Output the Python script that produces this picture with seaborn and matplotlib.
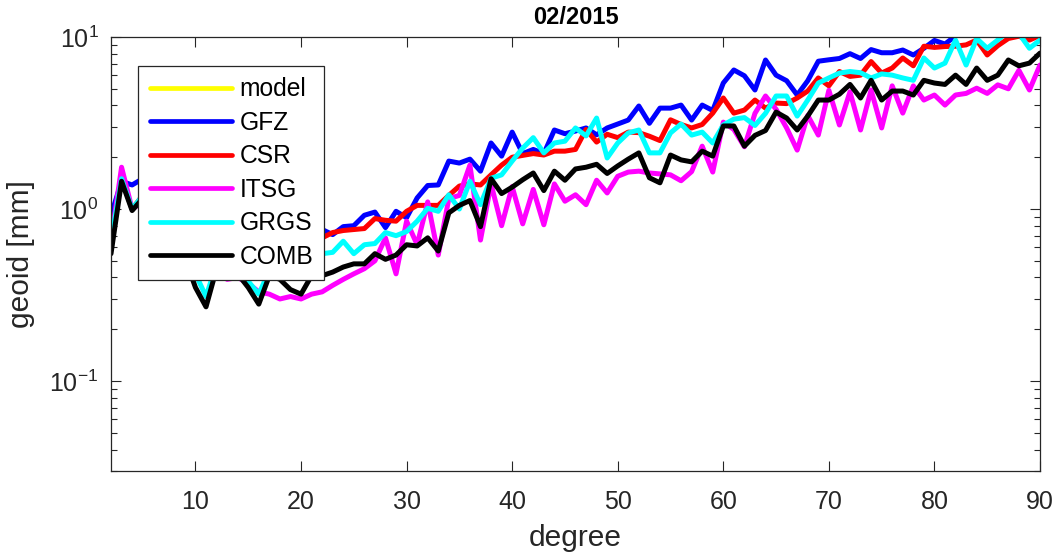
import numpy as np
import pandas as pd
import matplotlib
matplotlib.use("Agg")
import matplotlib.pyplot as plt
from matplotlib.lines import Line2D
from matplotlib.ticker import LogLocator
import seaborn as sns

# degree axis
degree = list(range(2, 91))

# per-degree geoid amplitude [mm]
gfz = [0.92, 1.45, 1.38, 1.5, 1.2, 1.0, 0.85, 0.75, 0.55, 0.40,
       0.47, 0.50, 0.50, 0.46, 0.44, 0.52, 0.55, 0.55, 0.60, 0.65,
       0.76, 0.71, 0.79, 0.80, 0.92, 0.96, 0.78, 0.97, 0.89, 1.16,
       1.37, 1.38, 1.90, 1.85, 1.95, 1.66, 2.42, 2.03, 2.80, 2.10,
       2.22, 2.10, 2.88, 2.74, 2.84, 2.96, 2.70, 2.96, 3.12, 3.29,
       3.97, 3.15, 3.86, 3.86, 4.02, 3.29, 4.02, 3.74, 5.40, 6.43,
       5.95, 4.92, 7.35, 6.00, 5.57, 4.60, 5.57, 7.23, 7.37, 7.50,
       8.00, 7.50, 8.45, 8.10, 8.10, 8.40, 7.86, 8.60, 9.55, 9.10,
       10.15, 10.6, 10.9, 11.2, 11.5, 11.8, 12.0, 12.2, 12.5]
csr = [0.70, 1.50, 1.00, 1.20, 0.90, 0.75, 0.65, 0.60, 0.50, 0.40,
       0.46, 0.42, 0.44, 0.41, 0.42, 0.46, 0.45, 0.43, 0.46, 0.56,
       0.68, 0.73, 0.75, 0.76, 0.77, 0.88, 0.86, 0.85, 0.97, 1.05,
       1.05, 1.05, 1.20, 1.36, 1.40, 1.38, 1.58, 1.80, 2.00, 2.05,
       2.10, 2.06, 2.17, 2.17, 2.22, 2.90, 2.45, 2.72, 2.60, 2.80,
       2.78, 2.65, 2.50, 3.30, 3.10, 2.96, 3.10, 3.61, 4.42, 3.61,
       3.76, 4.30, 3.86, 4.13, 4.10, 4.42, 4.85, 5.78, 5.20, 6.30,
       5.90, 6.00, 7.20, 6.17, 6.60, 7.55, 6.80, 8.84, 8.70, 8.80,
       8.84, 9.00, 9.60, 7.86, 8.90, 9.80, 10.1, 9.60, 10.2]
itsg = [0.65, 1.75, 1.00, 1.10, 0.70, 0.44, 0.60, 0.55, 0.45, 0.40,
        0.45, 0.39, 0.40, 0.37, 0.33, 0.32, 0.30, 0.31, 0.30, 0.32,
        0.33, 0.36, 0.39, 0.42, 0.45, 0.50, 0.68, 0.42, 0.85, 0.62,
        1.10, 0.54, 1.15, 1.20, 1.80, 0.66, 1.40, 0.80, 1.35, 0.82,
        1.30, 0.81, 1.40, 1.11, 1.21, 1.06, 1.47, 1.24, 1.55, 1.64,
        1.66, 1.62, 1.60, 1.58, 1.46, 1.65, 2.32, 1.64, 3.20, 2.90,
        2.30, 3.60, 4.54, 3.80, 2.96, 2.20, 3.50, 2.69, 4.90, 3.08,
        4.80, 2.88, 4.92, 2.96, 5.20, 3.61, 5.20, 4.30, 4.60, 4.02,
        4.60, 4.70, 5.04, 4.70, 5.27, 5.00, 6.40, 4.92, 6.87]
grgs = [0.65, 1.50, 1.00, 1.20, 0.85, 0.70, 0.60, 0.55, 0.42, 0.31,
        0.48, 0.46, 0.45, 0.38, 0.32, 0.44, 0.42, 0.43, 0.44, 0.47,
        0.55, 0.56, 0.65, 0.55, 0.62, 0.63, 0.73, 0.70, 0.74, 0.85,
        1.01, 0.97, 1.21, 1.00, 1.45, 1.06, 1.51, 1.58, 1.90, 2.26,
        2.60, 2.12, 2.42, 2.48, 2.96, 2.66, 3.38, 1.98, 2.42, 2.77,
        2.88, 2.12, 2.12, 2.77, 3.12, 2.69, 2.80, 2.42, 3.08, 3.33,
        3.40, 3.06, 3.60, 4.54, 4.54, 3.47, 4.30, 5.40, 5.78, 6.17,
        6.30, 6.20, 5.78, 6.10, 6.00, 5.78, 5.60, 7.55, 6.60, 7.05,
        9.60, 6.87, 9.80, 8.60, 9.60, 10.8, 10.5, 8.60, 9.60]
comb = [0.55, 1.45, 0.98, 1.15, 0.80, 0.65, 0.58, 0.52, 0.35, 0.27,
        0.45, 0.41, 0.42, 0.35, 0.28, 0.41, 0.39, 0.34, 0.32, 0.41,
        0.41, 0.43, 0.46, 0.48, 0.48, 0.55, 0.51, 0.54, 0.62, 0.61,
        0.68, 0.57, 0.95, 1.05, 1.12, 0.79, 1.50, 1.23, 1.34, 1.48,
        1.62, 1.28, 1.66, 1.47, 1.71, 1.75, 1.82, 1.61, 1.78, 1.95,
        2.12, 1.52, 1.42, 2.06, 1.93, 1.88, 2.17, 2.03, 3.04, 3.04,
        2.32, 2.68, 2.86, 3.66, 3.38, 2.88, 3.47, 4.30, 4.30, 4.65,
        5.30, 4.42, 5.60, 4.30, 4.85, 4.85, 4.60, 5.60, 5.40, 5.30,
        6.00, 5.30, 6.60, 5.60, 6.00, 7.35, 6.80, 7.05, 8.06]

centers = ["GFZ", "CSR", "ITSG", "GRGS", "COMB"]
colors = {"model": "#ffff00", "GFZ": "#0000ff", "CSR": "#ff0000",
          "ITSG": "#ff00ff", "GRGS": "#00ffff", "COMB": "#000000"}

df = pd.concat([
    pd.DataFrame({"degree": degree, "geoid": vals, "center": name})
    for name, vals in zip(centers, [gfz, csr, itsg, grgs, comb])
], ignore_index=True)

sns.set_theme(style="ticks")
plt.rcParams["font.family"] = ["Liberation Sans", "DejaVu Sans"]
plt.rcParams["mathtext.fontset"] = "custom"
plt.rcParams["mathtext.rm"] = "Liberation Sans"
plt.rcParams["mathtext.default"] = "regular"

gray = "#262626"
fig = plt.figure(figsize=(10.56, 5.56), dpi=100)
ax = fig.add_axes([111 / 1056, 1 - 471 / 556, 929 / 1056, 434 / 556])

sns.lineplot(data=df, x="degree", y="geoid", hue="center", hue_order=centers,
             palette=colors, linewidth=3.6, legend=False, ax=ax,
             estimator=None, sort=False)

ax.set_yscale("log")
ax.set_xlim(2, 90)
ax.set_ylim(0.03, 10)
ax.set_xticks(range(10, 91, 10))
ax.yaxis.set_major_locator(LogLocator(base=10, numticks=10))
ax.yaxis.set_minor_locator(LogLocator(base=10, subs=np.arange(2, 10), numticks=20))

for side in ax.spines.values():
    side.set_visible(True)
    side.set_color(gray)
    side.set_linewidth(0.9)
ax.tick_params(which="both", direction="in", top=True, right=True,
               colors=gray, labelcolor=gray, labelsize=18, width=0.8)
ax.tick_params(which="major", length=7)
ax.tick_params(which="minor", length=4.5)
ax.tick_params(axis="x", pad=14)
ax.tick_params(axis="y", pad=9)

ax.set_xlabel("degree", fontsize=21.5, color=gray, labelpad=7)
ax.set_ylabel("geoid [mm]", fontsize=21.5, color=gray, labelpad=10)
ax.set_title("02/2015", fontsize=17, fontweight="bold", color="black", pad=9)

# legend: model entry has no visible curve
handles = [Line2D([], [], color=colors["model"], linewidth=3.4)]
handles += [Line2D([], [], color=colors[c], linewidth=3.4) for c in centers]
labels = ["model"] + centers
leg = ax.legend(handles, labels, loc="upper left", bbox_to_anchor=(0.0296, 0.933),
                borderaxespad=0, fontsize=17.7, handlelength=3.36, handletextpad=0.3,
                labelspacing=0.39, borderpad=0.45, frameon=True, fancybox=False,
                framealpha=1, edgecolor=gray)
leg.get_frame().set_linewidth(0.9)
for t in leg.get_texts():
    t.set_color("black")

fig.savefig("out.png", dpi=100)
